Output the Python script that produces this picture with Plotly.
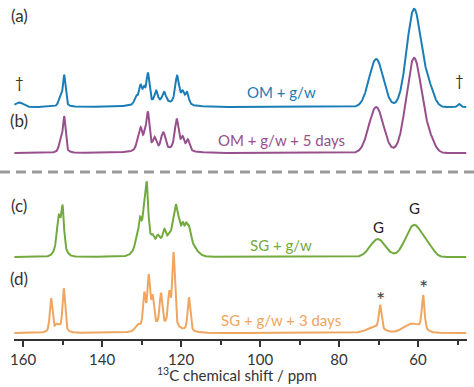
import numpy as np
import plotly.graph_objects as go

# ---- data ----
tick_vals = [160, 140, 120, 100, 80, 60]
tick_text = ["160", "140", "120", "100", "80", "60"]
minor_vals = [150, 130, 110, 90, 70, 50]

# sharp lines: centre (ppm), height, FWHM (ppm)
a_sharp_ppm = [150.6, 149.6, 131.4, 130.3, 129.4, 128.4, 126.3, 124.3, 121.0, 119.6, 118.5, 49.6]
a_sharp_h   = [9, 31, 8, 18, 13, 30, 12, 11, 28, 11, 12, 3]
a_sharp_w   = [1.0, 0.8, 1.0, 0.9, 0.8, 0.9, 1.0, 1.2, 1.2, 0.9, 1.0, 0.8]
a_broad_ppm = [161.0, 70.6, 61.0, 57.2, 125.0]
a_broad_h   = [4.5, 48, 98, 16, 3]
a_broad_w   = [2.5, 4.2, 4.3, 3.0, 12]

b_sharp_ppm = [150.5, 149.6, 131.0, 130.2, 129.2, 128.4, 126.7, 124.8, 124.3, 121.1, 119.6, 118.3]
b_sharp_h   = [11, 35, 8, 20, 13, 36, 11, 9, 11, 31, 12, 11]
b_sharp_w   = [1.0, 0.8, 1.0, 0.9, 0.8, 0.9, 1.0, 1.0, 1.0, 1.2, 0.9, 1.0]
b_broad_ppm = [70.6, 61.0, 57.0, 125.0]
b_broad_h   = [46, 95, 10, 3]
b_broad_w   = [4.3, 4.6, 3.0, 12]

c_sharp_ppm = [151.0, 150.0, 131.4, 130.4, 129.4, 128.7, 127.2, 125.9, 124.2, 123.0, 122.1, 121.3, 120.5, 119.6, 118.7, 118.0]
c_sharp_h   = [28, 38, 6, 22, 20, 54, 6, 6, 10, 6, 15, 33, 13, 10, 10, 10]
c_sharp_w   = [1.0, 0.8, 0.8, 0.9, 0.8, 0.9, 0.8, 0.8, 0.8, 0.8, 0.8, 0.9, 0.7, 0.7, 0.7, 0.7]
c_broad_ppm = [150.6, 129.5, 124.5, 119.0, 70.2, 61.0, 57.3]
c_broad_h   = [12, 16, 16, 22, 18, 32, 8]
c_broad_w   = [2.5, 4.0, 5.0, 4.5, 4.5, 5.0, 3.0]

d_sharp_ppm = [152.9, 151.6, 150.9, 149.7, 129.3, 128.2, 127.2, 125.1, 123.0, 121.9, 118.0, 69.6, 58.7]
d_sharp_h   = [34, 6, 5, 44, 34, 50, 28, 32, 32, 74, 34, 24, 34]
d_sharp_w   = [0.8, 0.8, 0.8, 0.8, 0.8, 0.8, 0.8, 0.8, 0.8, 0.8, 0.8, 0.8, 0.8]
d_broad_ppm = [131.0, 125.0, 71.0, 61.5]
d_broad_h   = [5, 6, 5, 9]
d_broad_w   = [1.5, 9, 5, 5]

offsets = [232, 186, 82, 6]
names = ["OM + g/w", "OM + g/w + 5 days", "SG + g/w", "SG + g/w + 3 days"]
colors = ["#1b7db5", "#984f8d", "#72aa3e", "#eea660"]

# ---- build curves ----
x = np.linspace(162.2, 47.8, 2400)

def pv(c, h, w):
    g = np.exp(-4 * np.log(2) * ((x - c) / w) ** 2)
    l = 1.0 / (1.0 + 4 * ((x - c) / w) ** 2)
    return h * (0.5 * g + 0.5 * l)

def gauss(c, h, w):
    return h * np.exp(-4 * np.log(2) * ((x - c) / w) ** 2)

def spectrum(sp, sh, sw, bp, bh, bw):
    y = np.zeros_like(x)
    for c, h, w in zip(sp, sh, sw):
        y += pv(c, h, w)
    for c, h, w in zip(bp, bh, bw):
        y += gauss(c, h, w)
    return y

specs = [
    spectrum(a_sharp_ppm, a_sharp_h, a_sharp_w, a_broad_ppm, a_broad_h, a_broad_w),
    spectrum(b_sharp_ppm, b_sharp_h, b_sharp_w, b_broad_ppm, b_broad_h, b_broad_w),
    spectrum(c_sharp_ppm, c_sharp_h, c_sharp_w, c_broad_ppm, c_broad_h, c_broad_w),
    spectrum(d_sharp_ppm, d_sharp_h, d_sharp_w, d_broad_ppm, d_broad_h, d_broad_w),
]

FONT = "Lato"
fig = go.Figure()
for y, off, col in zip(specs, offsets, colors):
    fig.add_trace(go.Scatter(x=x, y=y + off, mode="lines",
                             line=dict(color=col, width=2), hoverinfo="skip",
                             showlegend=False))

ann = []
def txt(xv, yv, s, col, size, xref="x", yref="y"):
    ann.append(dict(x=xv, y=yv, xref=xref, yref=yref, text=s, showarrow=False,
                    font=dict(family=FONT, size=size, color=col),
                    xanchor="center", yanchor="middle"))

for lab, yv in zip(["(a)", "(b)", "(c)", "(d)"], [324, 219, 134, 61]):
    txt(161.0, yv, lab, "#333333", 17)
txt(160.8, 257, "†", "#333333", 15)
txt(49.6, 259, "†", "#333333", 15)
for s, col, yv in zip(names, colors, [247, 199, 94, 19]):
    txt(94.6, yv, s, col, 15)
txt(70.1, 112, "G", "#222222", 15)
txt(60.8, 131, "G", "#222222", 15)
txt(69.4, 40, "*", "#444444", 22)
txt(58.7, 52, "*", "#444444", 22)
txt(0.492, -0.106, "<sup>13</sup>C chemical shift / ppm", "#333333", 15, "paper", "paper")

fig.update_layout(
    width=474, height=387,
    margin=dict(l=14, r=7, t=0, b=48),
    paper_bgcolor="white", plot_bgcolor="white",
    annotations=ann,
    shapes=[dict(type="line", xref="paper", yref="y", x0=-14 / 453, x1=1 + 7 / 453,
                 y0=167, y1=167, line=dict(color="#9a9a9a", width=3, dash="10px,6px"))],
    xaxis=dict(range=[162.3, 47.6], showgrid=False, zeroline=False,
               showline=True, linecolor="#333333", linewidth=1.5,
               ticks="outside", ticklen=6, tickwidth=1.5, tickcolor="#333333",
               tickvals=tick_vals, ticktext=tick_text,
               tickfont=dict(family=FONT, size=15, color="#333333"),
               minor=dict(tickvals=minor_vals, ticks="outside", ticklen=4,
                          tickwidth=1.5, tickcolor="#333333")),
    yaxis=dict(range=[0, 339], visible=False, showgrid=False, zeroline=False),
)

fig.write_html("out.html", config={"displayModeBar": False},
               post_script="document.body.style.margin='0';document.body.style.padding='0';")
